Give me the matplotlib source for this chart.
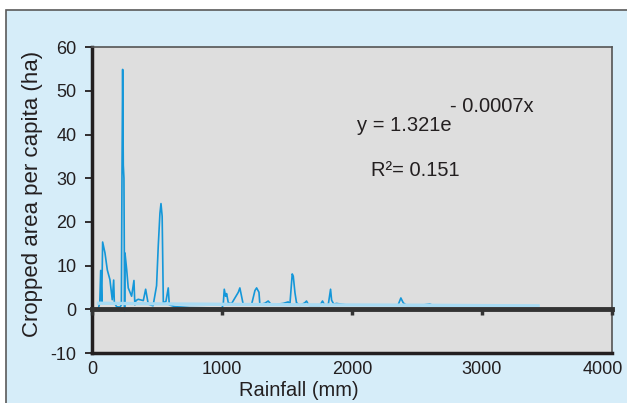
import matplotlib
matplotlib.use('Agg')
import matplotlib.pyplot as plt
import matplotlib.transforms as mtransforms
from matplotlib.patches import Rectangle

plt.rcParams['font.family'] = ['Liberation Sans', 'DejaVu Sans']
plt.rcParams['axes.unicode_minus'] = False

# rainfall (mm) vs cropped area per capita (ha)
rainfall = [50, 60, 67, 75, 82, 100, 118, 138, 156, 167, 172, 190, 215, 226, 231,
            236, 241, 246, 251, 254, 267, 279, 305, 323, 330, 338, 356, 395, 413,
            433, 470, 497, 510, 523, 531, 540, 549, 569, 587, 595, 640, 700, 754,
            1000, 1010, 1018, 1028, 1036, 1049, 1074, 1126, 1138, 1151, 1164, 1228,
            1254, 1267, 1285, 1292, 1331, 1356, 1382, 1472, 1510, 1523, 1541, 1549,
            1562, 1574, 1600, 1638, 1651, 1669, 1754, 1774, 1790, 1818, 1836, 1844,
            1860, 1882, 1959, 2356, 2377, 2395, 2421, 2523, 2600, 2626, 2690, 2895,
            2933, 3062, 3433]
area = [0.3, 1.5, 8.9, 1.5, 15.4, 12.9, 9.0, 6.8, 2.2, 6.7, 1.5, 0.6, 0.5, 1.0, 31.2,
        54.9, 33.0, 30.0, -0.4, 12.9, 9.1, 4.9, 3.0, 6.6, 1.0, 2.0, 2.3, 2.0, 4.6,
        1.2, 0.8, 5.4, 14.5, 22.0, 24.2, 21.3, 1.5, 1.8, 4.9, 1.0, 0.6, 0.5, 0.4,
        0.3, 1.1, 4.6, 3.0, 3.6, 1.5, 1.3, 3.9, 4.9, 3.0, 1.1, 1.1,
        4.3, 4.9, 3.9, 1.1, 1.4, 1.9, 1.0, 1.35, 1.7, 1.1, 8.1, 7.6,
        3.8, 1.5, 0.9, 1.5, 1.9, 0.9, 0.9, 1.9, 1.0, 1.0, 4.6, 2.1,
        1.2, 1.35, 1.0, 1.0, 2.6, 1.5, 0.9, 0.9, 1.2, 0.9, 1.0, 1.0,
        0.9, 0.8, 0.75]

# exponential trendline as drawn (light blue)
trend_x = [50, 500, 1000, 1500, 2000, 2500, 3000, 3433]
trend_y = [1.4, 1.25, 1.15, 1.05, 1.0, 0.95, 0.85, 0.8]

xticks = [0, 1000, 2000, 3000, 4000]
yticks = [-10, 0, 10, 20, 30, 40, 50, 60]

fig = plt.figure(figsize=(6.27, 4.03), dpi=100)
fig.patch.set_facecolor('white')
panel = Rectangle((6 / 627, -0.01), 1.0, 0.985, transform=fig.transFigure,
                  facecolor='#d6edf9', edgecolor='#5a5a5a', linewidth=1.2, zorder=-1)
fig.patches.append(panel)

ax = fig.add_axes([0.1467, 0.124, 0.829, 0.759])
ax.set_facecolor('#dedede')

ax.plot(rainfall, area, color='#1497d9', linewidth=1.2, zorder=3)
ax.plot(trend_x, trend_y, color='#a9dbf3', linewidth=2.4, zorder=4)

ax.set_xlim(0, 4000)
ax.set_ylim(-10, 60)

for side in ['top', 'right']:
    ax.spines[side].set_color('#555555')
    ax.spines[side].set_linewidth(1.2)
ax.spines['left'].set_color('#231f20')
ax.spines['left'].set_linewidth(2.5)
ax.spines['bottom'].set_color('#231f20')
ax.spines['bottom'].set_linewidth(2.5)

ax.set_yticks(yticks)
ax.set_xticks(xticks)
ax.tick_params(axis='y', direction='out', length=5, width=1.3, color='#231f20',
               labelsize=13, pad=6, labelcolor='#231f20')
ax.tick_params(axis='x', length=0, labelsize=13, pad=6, labelcolor='#231f20')
# the last x label is pulled in from the edge, as in the original
last = ax.get_xticklabels()[-1]
last.set_transform(last.get_transform() +
                   mtransforms.ScaledTranslation(-0.09, 0, fig.dpi_scale_trans))

# zero line with the x tick marks on it
zero = ax.secondary_xaxis(10 / 70)
zero.set_xticks(xticks)
zero.tick_params(direction='out', length=4, width=2.5, color='#333333',
                 labelbottom=False, labeltop=False)
zero.spines['bottom'].set_linewidth(3.5)
zero.spines['bottom'].set_color('#333333')
zero.set_zorder(5)

ax.set_xlabel('Rainfall (mm)', fontsize=14.5, color='#231f20')
ax.xaxis.label.set_va('center')
ax.xaxis.set_label_coords(0.398, -0.124)
ax.set_ylabel('Cropped area per capita (ha)', fontsize=16, color='#231f20')
ax.yaxis.label.set_va('center')
ax.yaxis.set_label_coords(-0.1135, 0.521)

ax.text(2036, 40.9, 'y = 1.321e', fontsize=14.5, va='baseline', ha='left', color='#231f20')
ax.text(2754, 45.1, '- 0.0007x', fontsize=14.5, va='baseline', ha='left', color='#231f20')
ax.text(2151, 30.4, 'R\u00b2= 0.151', fontsize=14.5, va='baseline', ha='left', color='#231f20')

fig.savefig('out.png', dpi=100)
